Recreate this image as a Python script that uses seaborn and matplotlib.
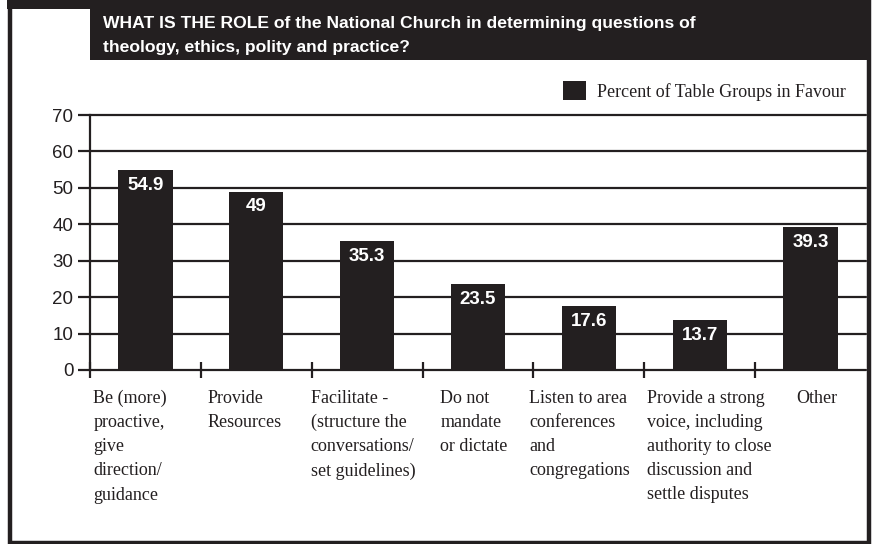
import matplotlib
matplotlib.use("Agg")
import matplotlib.pyplot as plt
import seaborn as sns
import pandas as pd
from matplotlib.patches import Rectangle, Patch

# Data
categories = [
    "Be (more)\nproactive,\ngive\ndirection/\nguidance",
    "Provide\nResources",
    "Facilitate -\n(structure the\nconversations/\nset guidelines)",
    "Do not\nmandate\nor dictate",
    "Listen to area\nconferences\nand\ncongregations",
    "Provide a strong\nvoice, including\nauthority to close\ndiscussion and\nsettle disputes",
    "Other",
]
values = [54.9, 49, 35.3, 23.5, 17.6, 13.7, 39.3]
value_labels = ["54.9", "49", "35.3", "23.5", "17.6", "13.7", "39.3"]
y_ticks = [0, 10, 20, 30, 40, 50, 60, 70]
title_lines = ["WHAT IS THE ROLE of the National Church in determining questions of",
               "theology, ethics, polity and practice?"]
legend_label = "Percent of Table Groups in Favour"

# layout: left edge of each category label, relative to the bar centre
label_shift = [-0.47, -0.44, -0.51, -0.34, -0.54, -0.48, -0.13]

dark = "#231f20"
sans = "Liberation Sans"
serif = "Liberation Serif"

sns.set_style("white")

df = pd.DataFrame({"cat": [str(i) for i in range(len(values))], "val": values})

W, H = 872, 544
fig = plt.figure(figsize=(W / 100, H / 100), dpi=100)
fig.patch.set_facecolor("white")

# axes placed in pixel terms of the reference
ax = fig.add_axes([90 / W, 1 - 370 / H, (866 - 90) / W, (370 - 115) / H])

sns.barplot(data=df, x="cat", y="val", color=dark, saturation=1,
            width=0.49, ax=ax, zorder=3)
for p in ax.patches:
    p.set_edgecolor("none")

ax.set_ylim(0, 70)
ax.set_xlim(-0.5, len(values) - 0.5)
ax.set_yticks(y_ticks)
ax.set_yticklabels([str(t) for t in y_ticks], fontfamily=sans, fontsize=13.5, color=dark)
ax.set_xticks([i - 0.5 for i in range(len(values))])
ax.set_xticklabels([])
ax.tick_params(axis="x", direction="inout", length=12, width=1.6, color=dark, bottom=True)
ax.tick_params(axis="y", direction="out", length=9, width=1.6, color=dark, left=True, pad=3)
ax.set_xlabel("")
ax.set_ylabel("")

# horizontal grid
for t in y_ticks:
    ax.axhline(t, color=dark, lw=1.6, zorder=1, clip_on=False)

for s in ["top", "right", "bottom"]:
    ax.spines[s].set_visible(False)
ax.spines["left"].set_color(dark)
ax.spines["left"].set_linewidth(1.6)

# value labels inside bars
for i, (v, lab) in enumerate(zip(values, value_labels)):
    ax.annotate(lab, (i, v), xytext=(0, -11), textcoords="offset points",
                ha="center", va="center", color="white", fontweight="bold",
                fontfamily=sans, fontsize=13.5, zorder=4)

# category labels under the axis, left aligned
for i, c in enumerate(categories):
    ax.text(i + label_shift[i], -5.4, c, ha="left", va="top", fontfamily=serif,
            fontsize=13, color=dark, linespacing=1.55, clip_on=False)

# outer frame and title band
fig.add_artist(Rectangle((9.5 / W, 1.5 / H), (868.5 - 9.5) / W, (H - 1.5) / H,
                         transform=fig.transFigure, fill=False,
                         edgecolor=dark, lw=3.2))
fig.add_artist(Rectangle((90 / W, 1 - 60 / H), (869 - 90) / W, 60 / H,
                         transform=fig.transFigure, facecolor=dark,
                         edgecolor="none"))
fig.add_artist(Rectangle((7 / W, 1 - 9 / H), (869 - 7) / W, 9 / H,
                         transform=fig.transFigure, facecolor=dark,
                         edgecolor="none"))
fig.text(103 / W, 1 - 28 / H, title_lines[0], color="white", fontweight="bold",
         fontfamily=sans, fontsize=12.6, va="baseline", ha="left")
fig.text(103 / W, 1 - 52 / H, title_lines[1], color="white", fontweight="bold",
         fontfamily=sans, fontsize=12.6, va="baseline", ha="left")

# legend
leg = fig.legend(handles=[Patch(facecolor=dark, edgecolor="none", label=legend_label)],
                 loc="center right", bbox_to_anchor=(862 / W, 1 - 91 / H),
                 frameon=False, handlelength=1.25, handleheight=1.25,
                 handletextpad=0.6, prop={"family": serif, "size": 13})
for t in leg.get_texts():
    t.set_color(dark)

fig.savefig("out.png", dpi=100, facecolor="white")
